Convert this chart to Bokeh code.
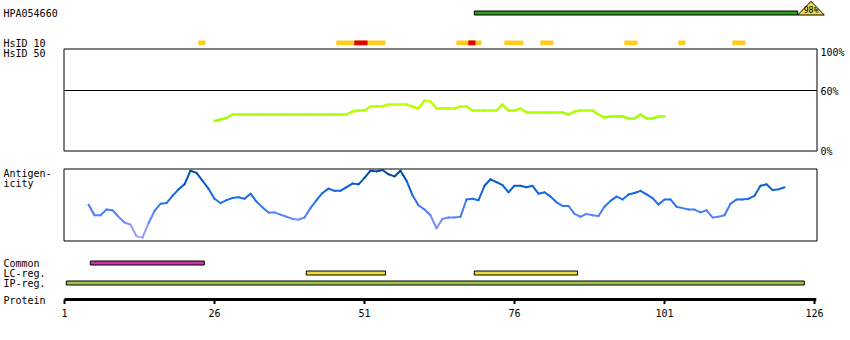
from bokeh.plotting import figure
from bokeh.models import Range1d
from bokeh.core.properties import value
from bokeh.embed import file_html
from bokeh.resources import INLINE

# ---------------- data ----------------
protein_len = 126
tick_residues = [1, 26, 51, 76, 101, 126]
tick_labels = ["1", "26", "51", "76", "101", "126"]

hpa_name = "HPA054660"
hpa_start, hpa_end = 69.3, 123.2
hpa_identity = "98%"

# HsID 10 segments (residue start, end)
hsid10_yellow = [(23.3, 24.5), (46.3, 54.5), (66.3, 70.5), (74.3, 77.5),
                 (80.3, 82.5), (94.3, 96.5), (103.3, 104.5), (112.3, 114.5)]
hsid10_red = [(49.3, 51.5), (68.3, 69.5)]

# HsID 50 identity (%) per residue, residues 26..101
hsid50_res = list(range(26, 102))
hsid50_pct = [29.5, 31, 32.5, 36, 36, 36, 36, 36, 36, 36, 36, 36, 36, 36, 36, 36,
              36, 36, 36, 36, 36, 36, 36, 39, 40, 40, 44, 44.3, 44.3, 46, 46, 46,
              46, 44, 42, 50, 49, 42, 42, 42, 42, 44, 44, 40, 40, 40, 40, 40,
              46, 40, 40, 42, 38, 38, 38, 38, 38, 38, 38, 36, 39, 40, 40, 40,
              36, 33, 34, 34, 34, 32, 32, 36, 32, 32, 34, 34]

# Antigenicity per residue, residues 5..121 (0..1 scale)
ag_res = list(range(5, 122))
ag_val = [0.50, 0.35, 0.35, 0.43, 0.42, 0.33, 0.25, 0.22, 0.06, 0.04,
          0.24, 0.41, 0.51, 0.52, 0.62, 0.71, 0.78, 0.97, 0.94, 0.83,
          0.72, 0.58, 0.52, 0.56, 0.59, 0.60, 0.58, 0.65, 0.54, 0.46,
          0.39, 0.39, 0.36, 0.33, 0.30, 0.29, 0.32, 0.45, 0.56, 0.66,
          0.72, 0.69, 0.69, 0.74, 0.79, 0.78, 0.87, 0.97, 0.96, 0.98,
          0.92, 0.89, 0.97, 0.83, 0.63, 0.49, 0.43, 0.35, 0.17, 0.30,
          0.32, 0.32, 0.33, 0.57, 0.58, 0.56, 0.76, 0.85, 0.81, 0.77,
          0.67, 0.76, 0.76, 0.74, 0.76, 0.65, 0.67, 0.61, 0.53, 0.48,
          0.48, 0.37, 0.33, 0.37, 0.35, 0.34, 0.47, 0.55, 0.61, 0.57,
          0.64, 0.66, 0.69, 0.64, 0.59, 0.50, 0.57, 0.57, 0.47, 0.45,
          0.43, 0.43, 0.39, 0.42, 0.32, 0.33, 0.35, 0.51, 0.57, 0.57,
          0.58, 0.62, 0.76, 0.78, 0.70, 0.71, 0.74]

common_regions = [(5.3, 24.3)]
lc_regions = [(41.3, 54.5), (69.3, 86.5)]
ip_regions = [(1.3, 124.3)]

# ---------------- layout helpers ----------------
W, H = 850, 340
PPR = 6.0      # pixels per residue
X0 = 64.0      # pixel of residue 1


def rx(px):
    return 1 + (px - X0) / PPR


FONT = value("DejaVu Sans Mono")

p = figure(width=W, height=H, output_backend="svg", toolbar_location=None,
           x_range=Range1d(rx(0), rx(W)), y_range=Range1d(H, 0),
           x_axis_type=None, y_axis_type=None, min_border=0,
           outline_line_color=None, background_fill_color="white",
           border_fill_color="white")
p.extra_y_ranges = {"pct": Range1d(-190, 150), "ag": Range1d(-100 / 72, 240 / 72)}


def label(x_px, y, txt, size="10px", align="left", color="black"):
    p.text(x=[rx(x_px)], y=[y], text=[txt], text_font=FONT, text_font_size=size,
           text_align=align, text_baseline="middle", text_color=color)


def lerp_color(stops, v):
    for (v0, c0), (v1, c1) in zip(stops, stops[1:]):
        if v <= v1:
            t = max(0.0, min(1.0, (v - v0) / (v1 - v0)))
            c = [round(a + (b - a) * t) for a, b in zip(c0, c1)]
            return "#%02x%02x%02x" % tuple(c)
    return "#%02x%02x%02x" % stops[-1][1]


def bars(regions, top, bottom, fill, line):
    n = len(regions)
    p.quad(left=[a for a, b in regions], right=[b for a, b in regions],
           top=[top] * n, bottom=[bottom] * n, fill_color=fill,
           line_color=line, line_width=1)


# ---------------- HPA bar ----------------
label(3, 13, hpa_name)
bars([(hpa_start, hpa_end)], 10.5, 14.5, "#2f9b1f", "black")
tri_w = 26.6 / PPR
p.patch(x=[hpa_end, hpa_end + tri_w / 2, hpa_end + tri_w],
        y=[14.5, 0.8, 14.5], fill_color="#f2d84a", line_color="black", line_width=1)
p.text(x=[hpa_end + tri_w / 2], y=[10], text=[hpa_identity], text_font=FONT,
       text_font_size="8px", text_align="center", text_baseline="middle")

# ---------------- HsID tracks ----------------
label(3, 42.5, "HsID 10")
label(3, 53, "HsID 50")
bars(hsid10_yellow, 40, 44.7, "#ffcc22", None)
bars(hsid10_red, 40, 44.7, "#e00000", None)

# box
bx0, bx1 = rx(63.5), rx(816.5)
p.line(x=[bx0, bx1, bx1, bx0, bx0], y=[48.5, 48.5, 150.5, 150.5, 48.5],
       line_color="black", line_width=1)
p.line(x=[bx0, bx1], y=[60, 60], y_range_name="pct", line_color="black", line_width=1)
label(820, 52, "100%")
label(820, 90.5, "60%")
label(820, 150.5, "0%")

green_stops = [(30, (0x99, 0xff, 0x00)), (50, (0xcc, 0xff, 0x00))]
gx0, gx1, gy0, gy1, gc = [], [], [], [], []
for i in range(len(hsid50_res) - 1):
    gx0.append(hsid50_res[i]); gx1.append(hsid50_res[i + 1])
    gy0.append(hsid50_pct[i]); gy1.append(hsid50_pct[i + 1])
    gc.append(lerp_color(green_stops, (hsid50_pct[i] + hsid50_pct[i + 1]) / 2))
p.segment(x0=gx0, y0=gy0, x1=gx1, y1=gy1, line_color=gc, line_width=2.5,
          y_range_name="pct", line_cap="round")

# ---------------- Antigenicity ----------------
label(3, 172.5, "Antigen-")
label(3, 183, "icity")
p.line(x=[bx0, bx1, bx1, bx0, bx0], y=[168.5, 168.5, 240.5, 240.5, 168.5],
       line_color="black", line_width=1)
blue_stops = [(0.0, (0xb0, 0xb0, 0xff)), (0.3, (0x66, 0x88, 0xff)),
              (0.55, (0x22, 0x70, 0xf0)), (0.8, (0x00, 0x5c, 0xd0)),
              (1.0, (0x00, 0x40, 0x88))]
ax0, ax1, ay0, ay1, ac = [], [], [], [], []
for i in range(len(ag_res) - 1):
    ax0.append(ag_res[i]); ax1.append(ag_res[i + 1])
    ay0.append(ag_val[i]); ay1.append(ag_val[i + 1])
    ac.append(lerp_color(blue_stops, (ag_val[i] + ag_val[i + 1]) / 2))
p.segment(x0=ax0, y0=ay0, x1=ax1, y1=ay1, line_color=ac, line_width=2,
          y_range_name="ag", line_cap="round")

# ---------------- feature tracks ----------------
label(3, 263, "Common")
label(3, 273, "LC-reg.")
label(3, 283, "IP-reg.")
bars(common_regions, 260.5, 264.5, "#cc33aa", "black")
bars(lc_regions, 270.5, 274.5, "#eedd33", "black")
bars(ip_regions, 280.5, 284.5, "#99c44a", "black")

# ---------------- protein axis ----------------
label(3, 300, "Protein")
p.segment(x0=[1], y0=[299], x1=[protein_len + 0.3], y1=[299],
          line_color="black", line_width=3)
n = len(tick_residues)
p.segment(x0=tick_residues, y0=[299] * n, x1=tick_residues, y1=[303.5] * n,
          line_color="black", line_width=2)
p.text(x=tick_residues, y=[312.5] * n, text=tick_labels,
       text_font=FONT, text_font_size="10px", text_align="center",
       text_baseline="middle")

open("out.html", "w").write(file_html(p, INLINE))
